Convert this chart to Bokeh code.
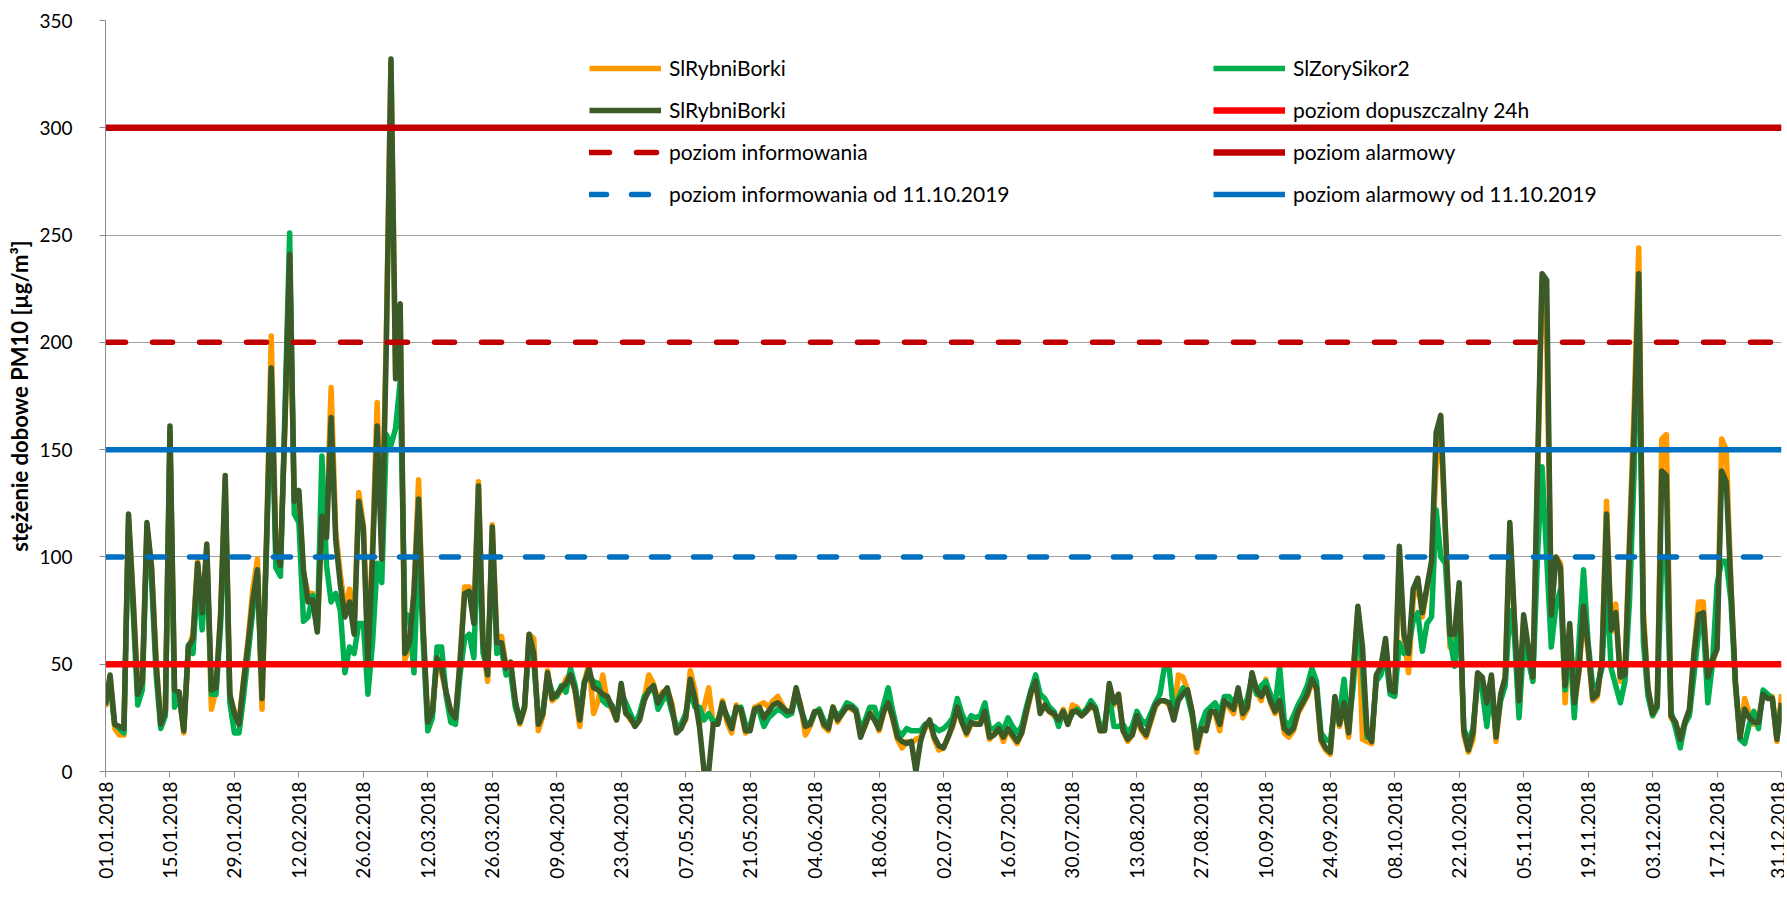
import math
from bokeh.plotting import figure
from bokeh.models import FixedTicker, Legend, LegendItem, Range1d
from bokeh.embed import file_html
from bokeh.resources import INLINE

# ---------------- data ----------------
tick_labels = ["01.01.2018", "15.01.2018", "29.01.2018", "12.02.2018", "26.02.2018",
               "12.03.2018", "26.03.2018", "09.04.2018", "23.04.2018", "07.05.2018",
               "21.05.2018", "04.06.2018", "18.06.2018", "02.07.2018", "16.07.2018",
               "30.07.2018", "13.08.2018", "27.08.2018", "10.09.2018", "24.09.2018",
               "08.10.2018", "22.10.2018", "05.11.2018", "19.11.2018", "03.12.2018",
               "17.12.2018", "31.12.2018"]
tick_step_days = 14
y_ticks = [0, 50, 100, 150, 200, 250, 300, 350]

# SlRybniBorki (orange)
rybnik_a = [
    30, 44, 20, 17, 17, 118, 82, 38, 40, 114, 96, 52, 22, 27, 159, 37, 36, 18, 57, 64, 98, 72, 104, 29, 38, 74, 136, 35, 28, 23, 43,
    62, 85, 99, 29, 112, 203, 105, 98, 163, 238, 124, 128, 92, 83, 83, 66, 117, 112, 179, 112, 92, 75, 85, 66, 130, 115, 55, 105,
    172, 101, 205, 330, 185, 215, 52, 58, 85, 136, 65, 22, 27, 52, 46, 36, 27, 24, 52, 86, 86, 70, 135, 58, 42, 115, 61, 63, 49, 50, 31,
    22, 29, 64, 62, 19, 26, 47, 33, 35, 38, 43, 46, 37, 21, 42, 50, 27, 33, 45, 32, 29, 24, 40, 28, 24, 22, 25, 34, 45, 41,
    33, 37, 38, 32, 19, 21, 24, 47, 38, 22, 30, 39, 22, 23, 33, 23, 18, 31, 28, 18, 20, 30, 31, 32, 30, 33, 35, 31, 27, 29, 38,
    31, 17, 21, 27, 29, 21, 19, 30, 23, 27, 31, 29, 28, 17, 21, 28, 25, 19, 27, 33, 24, 15, 11, 14, 13, 15, 16, 20, 23, 15,
    10, 11, 16, 21, 29, 23, 17, 22, 22, 23, 27, 15, 18, 20, 14, 20, 16, 13, 18, 27, 36, 42, 30, 30, 28, 26, 24, 29, 22, 31, 30,
    26, 28, 30, 29, 19, 20, 40, 31, 36, 19, 14, 17, 25, 19, 16, 23, 30, 33, 33, 31, 25, 45, 44, 38, 27, 9, 19, 20, 28, 27, 19,
    32, 30, 27, 38, 25, 29, 44, 37, 33, 43, 32, 27, 32, 18, 16, 19, 27, 31, 35, 42, 38, 14, 10, 8, 34, 21, 31, 16, 46, 76,
    15, 14, 13, 44, 48, 60, 37, 36, 100, 62, 46, 80, 90, 72, 85, 97, 142, 160, 112, 58, 62, 86, 17, 9, 15, 45, 43, 30, 44, 14, 34,
    44, 113, 70, 26, 70, 56, 42, 135, 228, 203, 75, 100, 97, 32, 67, 30, 46, 75, 56, 33, 35, 52, 126, 65, 78, 42, 46, 110, 170, 244,
    75, 38, 26, 30, 155, 157, 25, 22, 14, 22, 28, 56, 79, 79, 42, 50, 58, 155, 150, 88, 40, 15, 34, 27, 22, 24, 37, 35, 35, 14, 36,
]

# SlZorySikor2 (green)
zory = [
    33, 40, 22, 20, 18, 115, 75, 31, 38, 110, 89, 45, 20, 26, 155, 30, 35, 20, 59, 55, 90, 66, 100, 36, 36, 68, 130, 32, 18, 18, 35,
    55, 75, 92, 40, 105, 185, 95, 91, 170, 251, 120, 116, 70, 72, 82, 66, 147, 96, 79, 83, 75, 46, 58, 55, 69, 69, 36, 60,
    97, 88, 157, 152, 160, 182, 74, 72, 46, 110, 60, 19, 25, 58, 58, 35, 23, 22, 45, 62, 64, 53, 115, 55, 48, 105, 55, 57, 45, 46, 30,
    23, 30, 60, 52, 25, 28, 44, 37, 35, 40, 37, 48, 40, 25, 42, 44, 42, 41, 33, 31, 31, 25, 37, 32, 27, 22, 27, 35, 37, 40,
    29, 33, 36, 28, 21, 22, 27, 38, 30, 30, 24, 27, 23, 24, 30, 26, 22, 29, 30, 22, 21, 29, 28, 21, 25, 27, 29, 28, 26, 27, 37,
    29, 23, 22, 27, 29, 24, 21, 29, 26, 28, 32, 31, 29, 20, 24, 30, 30, 23, 31, 39, 28, 19, 17, 20, 19, 19, 19, 22, 22, 21,
    19, 20, 22, 25, 34, 27, 22, 26, 25, 26, 32, 20, 20, 22, 19, 25, 21, 18, 21, 30, 38, 45, 36, 34, 30, 28, 21, 28, 23, 27, 29,
    27, 29, 33, 30, 21, 22, 36, 21, 21, 22, 18, 21, 28, 24, 22, 27, 32, 36, 49, 48, 28, 34, 39, 35, 26, 14, 22, 28, 30, 32, 27,
    35, 35, 32, 36, 30, 34, 44, 36, 40, 42, 36, 30, 49, 24, 21, 26, 31, 35, 40, 48, 42, 18, 15, 14, 30, 27, 43, 20, 40, 70,
    48, 16, 16, 42, 45, 55, 36, 35, 60, 55, 58, 70, 74, 56, 69, 72, 122, 100, 97, 62, 49, 80, 20, 14, 20, 42, 38, 21, 40, 18, 33,
    40, 75, 63, 25, 60, 52, 42, 100, 142, 100, 58, 77, 85, 38, 60, 25, 60, 94, 60, 40, 40, 48, 90, 48, 40, 32, 42, 80, 140, 225,
    60, 35, 26, 30, 100, 100, 28, 20, 11, 22, 26, 45, 65, 70, 32, 50, 87, 98, 98, 80, 40, 15, 13, 22, 28, 20, 38, 36, 34, 16, 30,
]

# SlRybniBorki (dark green)
rybnik_b = [
    31, 45, 22, 21, 20, 120, 80, 36, 42, 116, 95, 50, 22, 28, 161, 38, 37, 19, 58, 62, 97, 74, 106, 38, 39, 73, 138, 36, 27, 22, 42,
    60, 80, 94, 34, 110, 188, 103, 96, 165, 241, 126, 131, 94, 79, 80, 65, 119, 109, 165, 108, 87, 72, 79, 64, 126, 113, 52, 100,
    161, 99, 200, 332, 183, 218, 55, 60, 83, 127, 67, 23, 28, 53, 48, 37, 28, 25, 51, 83, 84, 69, 133, 60, 45, 114, 60, 60, 48, 51, 33,
    23, 30, 64, 55, 22, 27, 46, 34, 36, 39, 41, 45, 38, 24, 41, 48, 39, 38, 36, 35, 30, 24, 41, 27, 25, 21, 24, 33, 38, 40,
    32, 36, 39, 30, 18, 20, 25, 43, 34, 21, 0, 0, 22, 22, 32, 25, 20, 30, 29, 19, 19, 29, 30, 25, 28, 31, 32, 30, 28, 28, 39,
    30, 21, 22, 28, 28, 22, 20, 30, 24, 27, 30, 30, 28, 16, 22, 27, 24, 20, 28, 32, 25, 16, 14, 13, 14, 0, 14, 21, 24, 16,
    12, 11, 16, 22, 30, 23, 18, 23, 22, 22, 28, 16, 17, 20, 16, 20, 17, 14, 18, 28, 37, 42, 27, 31, 28, 27, 24, 28, 22, 28, 28,
    26, 28, 31, 29, 19, 19, 41, 32, 36, 19, 15, 17, 26, 20, 17, 24, 31, 33, 33, 32, 24, 33, 36, 38, 28, 11, 20, 19, 28, 28, 22,
    33, 31, 29, 39, 27, 30, 46, 38, 35, 39, 33, 28, 33, 20, 18, 20, 28, 32, 36, 43, 39, 15, 11, 9, 35, 22, 32, 18, 47, 77,
    58, 18, 14, 45, 49, 62, 38, 37, 105, 64, 55, 85, 90, 74, 86, 98, 158, 166, 113, 64, 64, 88, 19, 10, 18, 46, 44, 32, 45, 16, 36,
    44, 116, 71, 33, 73, 58, 44, 140, 232, 229, 73, 100, 95, 40, 69, 32, 47, 77, 58, 34, 36, 52, 120, 66, 74, 44, 45, 105, 160, 232,
    70, 39, 27, 31, 140, 138, 26, 23, 15, 23, 29, 55, 73, 74, 44, 52, 57, 140, 135, 87, 42, 16, 29, 25, 23, 23, 36, 34, 34, 15, 32,
]

# threshold levels [ug/m3]
level_24h = 50
level_info = 200
level_alarm = 300
level_info_2019 = 100
level_alarm_2019 = 150

series_names = ["SlRybniBorki", "SlZorySikor2", "SlRybniBorki"]
level_names = ["poziom dopuszczalny 24h", "poziom informowania", "poziom alarmowy",
               "poziom informowania od 11.10.2019", "poziom alarmowy od 11.10.2019"]
y_label = "stężenie dobowe PM10 [µg/m³]"

# ---------------- figure ----------------
days = list(range(len(rybnik_b)))
day_first, day_last = days[0], days[-1]
tick_days = [i * tick_step_days for i in range(len(tick_labels))]

FONT = "Lato"

p = figure(width=1784, height=893, output_backend="svg", toolbar_location=None,
           x_range=Range1d(day_first, day_last), y_range=Range1d(0, 350),
           min_border_left=105, min_border_right=3, min_border_top=20,
           min_border_bottom=122)
p.background_fill_color = "white"
p.border_fill_color = "white"
p.outline_line_color = None

p.xgrid.visible = False
p.ygrid.grid_line_color = "#A0A0A0"
p.ygrid.grid_line_width = 1
p.ygrid.ticker = FixedTicker(ticks=y_ticks)

# axes
p.yaxis.ticker = FixedTicker(ticks=y_ticks)
p.xaxis.ticker = FixedTicker(ticks=tick_days)
p.xaxis.major_label_overrides = {d: lab for d, lab in zip(tick_days, tick_labels)}
p.xaxis.major_label_orientation = math.pi / 2
for ax in (p.xaxis[0], p.yaxis[0]):
    ax.axis_line_color = "#8C8C8C"
    ax.axis_line_width = 1
    ax.major_tick_line_color = "#8C8C8C"
    ax.major_tick_in = 0
    ax.major_tick_out = 6
    ax.minor_tick_line_color = None
    ax.major_label_text_font = FONT
    ax.major_label_text_font_size = "19px"
    ax.major_label_text_color = "#000000"
p.xaxis.major_label_standoff = 4
p.yaxis.major_label_standoff = 27
p.yaxis.axis_label = y_label
p.yaxis.axis_label_text_font = FONT
p.yaxis.axis_label_text_font_size = "22px"
p.yaxis.axis_label_text_font_style = "bold"
p.yaxis.axis_label_text_color = "#000000"
p.yaxis.axis_label_standoff = 3

# data series
LW = 5.5
r_a = p.line(days, rybnik_a, line_color="#FF9A00", line_width=LW, line_join="round")
r_z = p.line(days, zory, line_color="#00B050", line_width=LW, line_join="round")
r_b = p.line(days, rybnik_b, line_color="#3A5A27", line_width=LW, line_join="round")

# levels
xs = [day_first, day_last]
r_24 = p.line(xs, [level_24h] * 2, line_color="#FF0000", line_width=6.5)
r_info = p.line(xs, [level_info] * 2, line_color="#C00000", line_width=5.5,
                line_dash="20 27", line_cap="round")
r_alarm = p.line(xs, [level_alarm] * 2, line_color="#C00000", line_width=6.5)
r_info19 = p.line(xs, [level_info_2019] * 2, line_color="#0070C0", line_width=5.5,
                  line_dash="17 25", line_cap="round")
r_alarm19 = p.line(xs, [level_alarm_2019] * 2, line_color="#0070C0", line_width=5.5)

def make_legend(items, loc):
    lg = Legend(items=items, location=loc, orientation="vertical",
                label_text_font=FONT, label_text_font_size="21px",
                label_text_color="#000000", glyph_width=72, glyph_height=22,
                label_height=22, spacing=17, label_standoff=8, padding=0,
                margin=0, border_line_color=None, background_fill_alpha=0)
    return lg

leg1 = make_legend([
    LegendItem(label=series_names[0], renderers=[r_a]),
    LegendItem(label=series_names[2], renderers=[r_b]),
    LegendItem(label=level_names[1], renderers=[r_info]),
    LegendItem(label=level_names[3], renderers=[r_info19]),
], (484, 565))
leg2 = make_legend([
    LegendItem(label=series_names[1], renderers=[r_z]),
    LegendItem(label=level_names[0], renderers=[r_24]),
    LegendItem(label=level_names[2], renderers=[r_alarm]),
    LegendItem(label=level_names[4], renderers=[r_alarm19]),
], (1108, 565))
p.add_layout(leg1, "center")
p.add_layout(leg2, "center")

open("out.html", "w").write(file_html(p, INLINE))
